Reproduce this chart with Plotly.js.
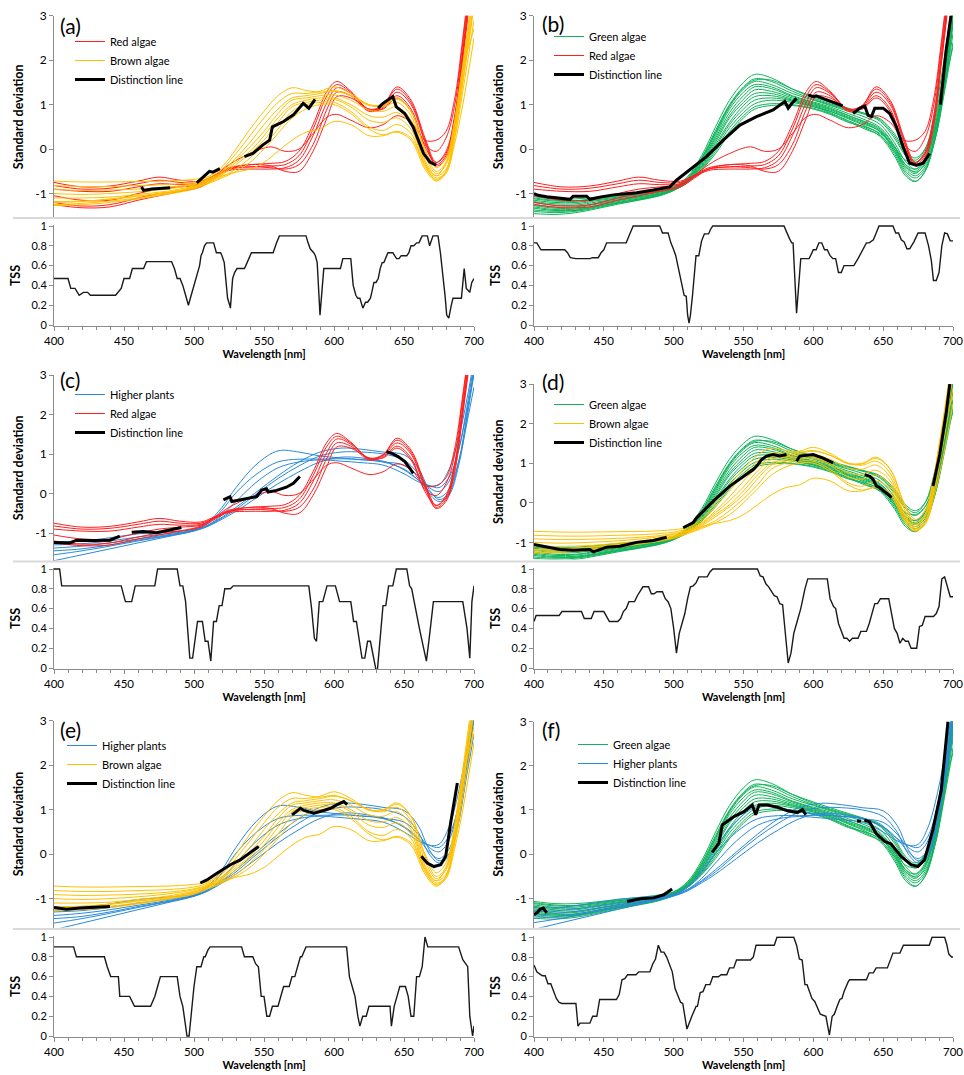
<!DOCTYPE html>
<html><head><meta charset="utf-8">
<script src="https://cdn.plot.ly/plotly-3.0.1.min.js"></script>
<style>html,body{margin:0;padding:0;background:#fff}</style>
</head><body><div id="chart" style="width:964px;height:1075px"></div>
<script>
// ---------------- DATA ----------------
const WL_RED = [400,420,440,460,475,490,505,515,525,540,555,565,575,585,595,602,612,625,635,645,655,665,673,680,686,692,700];
const RED_ALGAE = [
 [-0.75,-0.85,-0.83,-0.72,-0.63,-0.7,-0.72,-0.58,-0.42,-0.35,-0.32,-0.28,-0.05,0.55,1.3,1.52,1.3,0.88,0.98,1.4,1.1,0.25,-0.3,-0.1,0.7,2.2,4.5],
 [-0.82,-0.9,-0.88,-0.78,-0.7,-0.75,-0.75,-0.6,-0.45,-0.4,-0.38,-0.35,-0.15,0.45,1.2,1.45,1.28,0.9,0.98,1.35,1.05,0.2,-0.35,-0.15,0.6,2.1,4.3],
 [-0.9,-0.95,-0.95,-0.85,-0.78,-0.8,-0.78,-0.62,-0.48,-0.45,-0.45,-0.42,-0.25,0.3,1.05,1.38,1.25,0.88,0.95,1.28,1.0,0.15,-0.38,-0.2,0.5,2.0,4.2],
 [-1.05,-1.15,-1.15,-1.0,-0.9,-0.85,-0.8,-0.62,-0.45,-0.4,-0.42,-0.45,-0.35,0.1,0.9,1.28,1.2,0.85,0.92,1.2,0.9,0.05,-0.3,-0.05,0.7,2.2,4.4],
 [-1.2,-1.28,-1.25,-1.1,-1.0,-0.95,-0.85,-0.65,-0.45,-0.35,-0.38,-0.5,-0.5,-0.05,0.7,1.18,1.15,0.9,0.9,1.15,0.85,0.1,-0.05,0.25,0.95,2.4,4.6],
 [-1.25,-1.32,-1.3,-1.15,-1.05,-0.95,-0.82,-0.6,-0.35,-0.1,0.05,-0.05,0.0,0.35,0.72,0.78,0.65,0.48,0.55,0.75,0.6,0.2,0.2,0.4,1.1,2.5,4.7]
];
const WL_BROWN = [400,420,440,460,480,500,510,520,530,540,550,560,570,580,590,600,612,625,635,645,655,665,673,680,686,692,700];
const BROWN_ALGAE = [
 [-0.72,-0.74,-0.74,-0.73,-0.72,-0.68,-0.62,-0.4,0.0,0.45,0.85,1.2,1.38,1.32,1.28,1.32,1.2,0.98,0.98,1.12,0.85,0.0,-0.42,-0.2,0.6,1.9,3.8],
 [-0.82,-0.84,-0.84,-0.82,-0.8,-0.74,-0.65,-0.45,-0.1,0.3,0.7,1.05,1.25,1.25,1.3,1.4,1.25,1.0,1.0,1.15,0.85,-0.05,-0.5,-0.3,0.5,1.8,3.6],
 [-0.91,-0.93,-0.92,-0.9,-0.86,-0.78,-0.68,-0.5,-0.2,0.15,0.55,0.9,1.15,1.2,1.25,1.3,1.2,1.0,0.95,1.05,0.75,-0.15,-0.55,-0.35,0.4,1.6,3.3],
 [-1.0,-1.02,-1.0,-0.96,-0.9,-0.8,-0.7,-0.52,-0.25,0.05,0.4,0.8,1.1,1.15,1.2,1.22,1.1,0.88,0.85,0.95,0.65,-0.25,-0.6,-0.45,0.3,1.5,3.2],
 [-1.1,-1.1,-1.08,-1.02,-0.95,-0.83,-0.72,-0.55,-0.3,-0.05,0.3,0.7,1.0,1.1,1.15,1.15,1.0,0.75,0.72,0.82,0.55,-0.3,-0.65,-0.5,0.2,1.3,2.9],
 [-1.18,-1.17,-1.13,-1.06,-0.98,-0.86,-0.74,-0.58,-0.35,-0.1,0.2,0.6,0.95,1.05,1.1,1.12,0.95,0.65,0.6,0.7,0.45,-0.35,-0.7,-0.55,0.1,1.0,2.5],
 [-1.25,-1.22,-1.17,-1.1,-1.0,-0.88,-0.76,-0.62,-0.45,-0.2,0.1,0.45,0.85,1.0,1.05,1.05,0.85,0.5,0.42,0.55,0.35,-0.4,-0.68,-0.5,0.3,1.5,3.3],
 [-1.2,-1.18,-1.12,-1.05,-0.98,-0.85,-0.72,-0.6,-0.52,-0.45,-0.3,-0.05,0.2,0.38,0.45,0.62,0.55,0.3,0.3,0.38,0.2,-0.45,-0.72,-0.5,0.4,1.7,3.5],
 [-1.27,-1.25,-1.2,-1.12,-1.02,-0.9,-0.78,-0.65,-0.5,-0.3,0.0,0.35,0.7,0.9,1.0,1.0,0.8,0.45,0.32,0.4,0.25,-0.35,-0.6,-0.3,0.6,1.8,2.7]
];
const WL_GREEN = [400,415,430,445,460,475,490,500,510,520,530,540,550,558,570,585,600,612,625,637,648,658,666,673,680,687,694,700];
const GREEN_ALGAE = [
 [-1.07,-1.12,-1.12,-1.08,-1.03,-0.98,-0.92,-0.85,-0.62,-0.15,0.5,1.1,1.5,1.68,1.6,1.35,1.15,1.02,0.9,0.8,0.68,0.35,-0.05,-0.2,0.0,0.7,1.9,3.2],
 [-1.12,-1.17,-1.17,-1.12,-1.06,-1.0,-0.94,-0.86,-0.65,-0.2,0.42,1.0,1.4,1.58,1.52,1.3,1.12,1.0,0.88,0.78,0.62,0.25,-0.15,-0.32,-0.1,0.6,1.8,3.1],
 [-1.15,-1.2,-1.2,-1.14,-1.08,-1.02,-0.95,-0.87,-0.67,-0.25,0.35,0.95,1.35,1.52,1.45,1.25,1.1,0.98,0.85,0.72,0.55,0.15,-0.28,-0.45,-0.25,0.45,1.6,2.9],
 [-1.18,-1.23,-1.23,-1.16,-1.1,-1.03,-0.96,-0.88,-0.68,-0.28,0.3,0.9,1.28,1.45,1.4,1.2,1.06,0.95,0.8,0.66,0.48,0.08,-0.35,-0.52,-0.35,0.3,1.4,2.6],
 [-1.2,-1.26,-1.26,-1.19,-1.12,-1.05,-0.97,-0.89,-0.7,-0.3,0.25,0.82,1.2,1.4,1.36,1.18,1.04,0.92,0.76,0.6,0.42,0.0,-0.45,-0.6,-0.4,0.2,1.3,2.4],
 [-1.24,-1.3,-1.3,-1.22,-1.14,-1.07,-0.99,-0.9,-0.7,-0.32,0.2,0.75,1.12,1.33,1.3,1.15,1.02,0.9,0.75,0.62,0.45,0.05,-0.4,-0.55,-0.3,0.4,1.7,3.1],
 [-1.27,-1.33,-1.32,-1.24,-1.16,-1.08,-1.0,-0.9,-0.72,-0.35,0.15,0.7,1.05,1.25,1.25,1.12,1.0,0.88,0.72,0.58,0.38,-0.05,-0.5,-0.65,-0.45,0.2,1.4,2.8],
 [-1.3,-1.36,-1.35,-1.27,-1.18,-1.1,-1.01,-0.91,-0.72,-0.38,0.1,0.6,0.98,1.18,1.2,1.1,0.98,0.85,0.68,0.52,0.32,-0.1,-0.55,-0.72,-0.5,0.2,1.5,2.9],
 [-1.33,-1.38,-1.37,-1.29,-1.2,-1.12,-1.02,-0.92,-0.73,-0.4,0.05,0.55,0.9,1.1,1.15,1.08,0.96,0.82,0.64,0.48,0.28,-0.15,-0.6,-0.73,-0.5,0.3,1.6,3.0],
 [-1.37,-1.4,-1.38,-1.3,-1.21,-1.13,-1.03,-0.92,-0.73,-0.42,0.0,0.48,0.82,1.02,1.1,1.05,0.95,0.85,0.7,0.55,0.4,0.0,-0.35,-0.45,-0.2,0.5,1.8,3.2],
 [-1.4,-1.43,-1.4,-1.32,-1.22,-1.14,-1.04,-0.93,-0.75,-0.45,-0.05,0.4,0.75,0.95,1.02,1.0,0.92,0.8,0.62,0.45,0.3,-0.05,-0.4,-0.5,-0.25,0.4,1.6,2.9],
 [-1.45,-1.47,-1.43,-1.34,-1.24,-1.15,-1.05,-0.93,-0.75,-0.47,-0.1,0.35,0.7,0.9,0.98,0.98,0.9,0.78,0.6,0.5,0.35,0.05,-0.25,-0.3,-0.1,0.5,1.5,2.3],
 [-1.1,-1.15,-1.16,-1.1,-1.05,-1.0,-0.95,-0.87,-0.66,-0.22,0.38,0.98,1.38,1.55,1.55,1.35,1.18,1.05,0.92,0.8,0.65,0.3,-0.1,-0.25,0.0,0.8,2.1,3.4]
];
const WL_PLANTS = [400,420,440,460,480,500,510,520,530,545,560,575,590,605,620,635,650,660,668,675,682,689,695,700];
const HIGHER_PLANTS = [
 [-1.22,-1.2,-1.12,-1.02,-0.97,-0.9,-0.72,-0.35,0.15,0.75,1.08,1.05,0.95,0.9,0.85,0.82,0.6,0.35,0.2,0.22,0.6,1.4,2.4,3.4],
 [-1.3,-1.27,-1.2,-1.1,-1.02,-0.92,-0.75,-0.42,0.02,0.5,0.8,0.87,0.87,0.88,0.86,0.8,0.72,0.45,0.15,0.05,0.3,1.1,2.2,3.3],
 [-1.38,-1.33,-1.25,-1.15,-1.05,-0.93,-0.8,-0.6,-0.35,0.05,0.45,0.8,1.05,1.15,1.12,1.05,0.98,0.65,0.1,-0.15,0.0,0.8,2.0,3.2],
 [-1.45,-1.4,-1.3,-1.18,-1.07,-0.94,-0.82,-0.62,-0.4,0.0,0.38,0.7,0.95,1.05,1.05,1.0,0.85,0.5,0.0,-0.2,-0.05,0.7,1.9,3.1],
 [-1.7,-1.55,-1.4,-1.25,-1.1,-0.95,-0.83,-0.65,-0.45,-0.1,0.25,0.55,0.8,0.92,0.9,0.8,0.62,0.35,0.05,-0.1,0.1,0.8,1.8,2.7],
 [-1.55,-1.45,-1.33,-1.2,-1.08,-0.94,-0.8,-0.55,-0.2,0.3,0.65,0.8,0.85,0.82,0.78,0.72,0.5,0.3,0.2,0.15,0.4,1.1,2.1,3.0]
];

// Distinction lines (null = gap)
const DIST_A_X = [462.5,464,470,477,483,null,502,507,511,513.5,518.5,null,536,542,549,554,556,564,571,578,582,584,586.5,null,631.5,635,642,644.5,650.5,656.5,664,668.5,673];
const DIST_A_Y = [-0.85,-0.93,-0.9,-0.88,-0.87,null,-0.76,-0.62,-0.5,-0.52,-0.44,null,-0.17,-0.1,0.09,0.2,0.5,0.62,0.77,1.03,0.92,1.0,1.12,null,0.92,1.03,1.18,0.95,0.8,0.5,-0.1,-0.29,-0.36];
const DIST_B_X = [400,403,409,418,425.8,428,437.7,440,447,456.8,466.3,473.5,485.4,497.3,502,514,523.5,535.5,547.4,559.3,571.2,579.6,582,584.4,588,null,596.3,600,602,607,614,621,null,628.5,633.3,636.8,639.2,641.6,644,650,654.7,659.5,664.3,669,673.8,678.6,683.3,null,691,695,699];
const DIST_B_Y = [-1.0,-1.04,-1.07,-1.11,-1.13,-1.06,-1.06,-1.13,-1.08,-1.03,-1.01,-0.98,-0.92,-0.85,-0.7,-0.4,-0.17,0.2,0.54,0.73,0.88,1.07,0.92,1.02,1.14,null,1.22,1.18,1.2,1.14,1.07,0.97,null,0.8,0.92,0.97,0.76,0.73,0.92,0.92,0.8,0.5,0.05,-0.32,-0.36,-0.32,-0.1,null,1.0,2.2,3.1];
const DIST_C_X = [400,411.4,416,428,440,447,null,455.5,463.8,473.3,480.4,491,null,521,525.7,527,537.6,544.7,548.3,551.8,553,559,566,571,575.6,null,637.5,641,646,650.6,654.2,656.6];
const DIST_C_Y = [-1.24,-1.25,-1.18,-1.19,-1.18,-1.08,null,-0.98,-0.96,-0.99,-0.93,-0.86,null,-0.16,-0.08,-0.2,-0.12,-0.08,0.09,0.12,0.04,0.08,0.16,0.26,0.43,null,1.06,1.02,0.93,0.81,0.64,0.51];
const DIST_D_X = [400,406.7,418.6,428,440,442.5,452,461.5,473.5,485.4,495,null,506.8,514,516.4,528.3,540.2,552.2,557,559.3,563,566.5,571.2,576,580.8,null,588,590.3,599.9,607,614.2,null,636.8,640.4,642.8,645.2,647.6,651.2,653.5,656,null,685.7,690.5,695.3,697.7];
const DIST_D_Y = [-1.05,-1.1,-1.18,-1.2,-1.18,-1.24,-1.12,-1.1,-1.0,-0.95,-0.87,null,-0.63,-0.5,-0.38,0.04,0.42,0.71,0.84,0.92,1.09,1.18,1.22,1.18,1.22,null,1.05,1.18,1.22,1.13,1.01,null,0.71,0.67,0.59,0.42,0.38,0.29,0.21,0.13,null,0.42,1.22,2.31,3.0];
const DIST_E_X = [400,409,418.6,428,440,null,504.5,509.2,516.4,526,533,538,546.2,null,570,573.6,576,578.4,585.6,592.7,597.5,602.2,607,609.4,null,662.4,666.6,671.4,676.2,679.8,683.3,688.1];
const DIST_E_Y = [-1.2,-1.24,-1.21,-1.19,-1.18,null,-0.65,-0.58,-0.43,-0.24,-0.13,-0.01,0.17,null,0.88,0.96,1.03,0.98,0.92,0.98,1.03,1.11,1.18,1.11,null,-0.05,-0.2,-0.28,-0.24,-0.05,0.7,1.6];
const DIST_F_X = [400,402,404.3,406.7,409.1,null,466.6,476.1,485.7,492.9,498.9,null,527.6,532.4,534.8,543.2,550.3,556.3,558.7,561.1,567.1,574.3,581.5,588.6,592.2,594.6,null,631.3,634.2,null,636.5,640.2,644.9,650.9,655.7,662.8,670,674.8,679.6,685.6,691.6,696.4];
const DIST_F_Y = [-1.37,-1.33,-1.25,-1.22,-1.33,null,-1.07,-1.01,-0.99,-0.92,-0.79,null,0.04,0.25,0.66,0.85,0.96,1.11,0.89,1.11,1.11,1.06,0.98,0.94,1.01,0.89,null,0.75,0.75,null,0.77,0.73,0.47,0.29,0.23,-0.05,-0.24,-0.28,-0.13,0.55,1.45,3.0];

// TSS
const TSS_A_X = [400,410,412,415,418,421,424,426,444,446,448,450,454,456,464,466,484,486,488,490,492,494,496,498,500,502,504,505,506,507.5,509,514,516,519,520,521.6,524,525.5,526,527.6,529,530.7,536,537,539,541,556.5,557.7,559,561,580,581.5,583,585.5,586.7,588,590,592.7,604.6,606.3,612,613.7,615.6,617,618.5,620.6,622.5,624,626,627,628.5,630,631.6,633,634.4,635.6,637.5,638.5,642,643.5,644.7,646.4,648,652,653.5,655,657,659,660.7,662,663,666.7,668.3,670.7,674.3,676,678,679.3,680.5,682,683.8,685,691,693,694.5,697,698.4,700];
const TSS_A_Y = [0.47,0.47,0.37,0.37,0.3,0.33,0.33,0.3,0.3,0.33,0.37,0.47,0.47,0.57,0.57,0.64,0.64,0.57,0.47,0.47,0.4,0.3,0.2,0.3,0.4,0.5,0.6,0.7,0.73,0.8,0.83,0.83,0.73,0.73,0.7,0.63,0.27,0.2,0.17,0.47,0.53,0.57,0.57,0.6,0.67,0.73,0.73,0.77,0.83,0.9,0.9,0.83,0.77,0.73,0.7,0.63,0.1,0.57,0.57,0.67,0.67,0.4,0.3,0.27,0.27,0.17,0.23,0.23,0.27,0.33,0.43,0.43,0.47,0.57,0.63,0.63,0.7,0.73,0.73,0.7,0.67,0.67,0.7,0.7,0.73,0.8,0.8,0.83,0.83,0.87,0.9,0.9,0.8,0.9,0.9,0.73,0.5,0.3,0.1,0.07,0.2,0.27,0.27,0.57,0.37,0.33,0.43,0.47];
const TSS_B_X = [400,402,405,422,424,426,430,440,442,446,448,450,452,466,468,471,490,492,496,498,500,501.5,503,504.5,506,507.5,509,510,511,512,513.5,515,516,518,520,522,525,526.5,528,579,581,583,584.5,585.5,588,590,591,597,600,602,604,606,608,610,612,614,616,618,620,622,629,632,635,638,640,643,645,647,657,659,661,663,665,667,669,672,675,680,682.5,684.5,686,688,690,692,694,696,698,700];
const TSS_B_Y = [0.83,0.83,0.76,0.76,0.73,0.68,0.67,0.67,0.68,0.68,0.73,0.76,0.83,0.83,0.9,1.0,1.0,0.93,0.93,0.83,0.76,0.7,0.6,0.5,0.37,0.3,0.29,0.1,0.02,0.1,0.3,0.6,0.7,0.7,0.85,0.92,0.92,0.97,1.0,1.0,0.93,0.87,0.83,0.83,0.12,0.5,0.67,0.67,0.76,0.76,0.83,0.83,0.76,0.76,0.7,0.67,0.67,0.53,0.53,0.6,0.6,0.67,0.75,0.83,0.83,0.86,0.93,1.0,1.0,0.93,0.93,0.86,0.84,0.77,0.77,0.84,0.93,0.93,0.8,0.65,0.45,0.45,0.53,0.8,0.93,0.92,0.85,0.85];
const TSS_C_X = [400,404,405.5,448,451,455.5,458,472,474,488,490,492,494,497,499,501,502.5,506,508,510,512,514,516,518,520,522,526,528,582,584,586,587.5,589.5,592,595,601,604,612,614,616,618,620,622,624,626,628,630,631,633,635,637,639,642,644.5,652,654,655.5,658,661,664,666,668,671,692,695,697,698.5,700];
const TSS_C_Y = [1.0,1.0,0.83,0.83,0.67,0.67,0.83,0.83,1.0,1.0,0.83,0.83,0.67,0.1,0.1,0.33,0.47,0.47,0.27,0.27,0.07,0.47,0.47,0.63,0.63,0.8,0.8,0.83,0.83,0.6,0.3,0.27,0.67,0.67,0.83,0.83,0.67,0.67,0.47,0.47,0.27,0.1,0.1,0.27,0.27,0.1,-0.02,-0.02,0.33,0.63,0.63,0.83,0.83,1.0,1.0,0.83,0.8,0.6,0.4,0.2,0.07,0.3,0.67,0.67,0.4,0.1,0.67,0.83];
const TSS_D_X = [400,401.5,418,420,434,436,441,443,450,453,454,460,462,464,466,468,472,474,476,478,482,484,486,488,492,494,496,498,500,502,504,506,508,510,512,514,516,518,524,526,528,560,562,564,566,568,570,572,574,576,578,580.5,582,584,586,588,591,594,596,610,612,614.5,616,618,620,622,624,626,628,632,634,638,640,642,644,646,648,654,656,658,660,662,664,666,668,670,674,676,678,680,686,688,690,692,694,696,698,700];
const TSS_D_Y = [0.47,0.53,0.53,0.57,0.57,0.5,0.5,0.57,0.57,0.5,0.47,0.47,0.5,0.57,0.6,0.67,0.67,0.73,0.77,0.82,0.82,0.75,0.75,0.77,0.77,0.7,0.67,0.6,0.4,0.15,0.35,0.45,0.55,0.7,0.82,0.83,0.86,0.92,0.92,0.97,1.0,1.0,0.93,0.92,0.85,0.82,0.77,0.73,0.72,0.65,0.64,0.3,0.05,0.15,0.35,0.45,0.6,0.8,0.9,0.9,0.7,0.62,0.6,0.45,0.37,0.3,0.3,0.27,0.3,0.3,0.37,0.37,0.45,0.55,0.65,0.65,0.7,0.7,0.55,0.4,0.35,0.25,0.3,0.27,0.27,0.2,0.2,0.42,0.43,0.52,0.52,0.55,0.62,0.9,0.92,0.83,0.72,0.72];
const TSS_E_X = [400,414,416,436,438,440.5,446,447,454,456,457.5,469,472,474,476,488,490,492,494,495,496.5,498.5,500,502,505,507,508,510,511.5,534,536,542,544,546,548,550,552,554,556,560,562,564,568,570,572,574,576,577,580,609,611,613,615,617,618.5,620.5,623,625,640,641,643,645,647,651,653,655,657,659,661,663,665,667,689,692,694.5,695.5,697,699,700];
const TSS_E_Y = [0.9,0.9,0.8,0.8,0.7,0.6,0.6,0.4,0.4,0.35,0.3,0.3,0.4,0.5,0.6,0.6,0.4,0.3,0.1,0.0,0.0,0.3,0.5,0.7,0.7,0.8,0.8,0.87,0.9,0.9,0.8,0.8,0.73,0.7,0.4,0.4,0.2,0.2,0.3,0.3,0.4,0.5,0.5,0.6,0.6,0.7,0.8,0.8,0.9,0.9,0.6,0.5,0.4,0.2,0.1,0.2,0.2,0.3,0.3,0.1,0.3,0.4,0.5,0.5,0.4,0.2,0.2,0.6,0.6,0.7,1.0,0.9,0.9,0.77,0.72,0.7,0.2,0.0,0.1];
const TSS_F_X = [400,402,404,406,408,410,412,414,416,418,420,430,431.5,433,440,442,445,447,459,461,463,465,467,473,475,483,485,487,489,491,493,495,497,499,501,503,505,506.5,509.5,513,516,517,519,521,523,526,528,532,534,538,540,543,545,555,557,559,572,574,586,588,590,592,594,595.5,597,599,601,605,609,611.5,613.5,615,617,619,620.5,622,625,626,638,640,643,645,653,655,657,662,664.5,683,685,694,695.5,697,699,700];
const TSS_F_Y = [0.72,0.65,0.63,0.61,0.61,0.53,0.53,0.45,0.38,0.34,0.33,0.33,0.1,0.13,0.13,0.2,0.2,0.37,0.37,0.42,0.57,0.58,0.62,0.62,0.65,0.65,0.73,0.78,0.92,0.85,0.85,0.8,0.72,0.65,0.48,0.4,0.34,0.33,0.07,0.2,0.3,0.3,0.44,0.45,0.52,0.52,0.6,0.6,0.62,0.62,0.69,0.69,0.77,0.77,0.8,0.92,0.92,1.0,1.0,0.92,0.78,0.77,0.52,0.52,0.45,0.38,0.35,0.22,0.2,0.01,0.2,0.22,0.3,0.37,0.38,0.45,0.55,0.57,0.57,0.64,0.64,0.69,0.69,0.77,0.84,0.84,0.92,0.92,1.0,1.0,0.93,0.83,0.8,0.8];

const SD_TICKS = [-1,0,1,2,3];
const SD_TICKTEXT = ['-1','0','1','2','3'];
const TSS_TICKS = [0,0.2,0.4,0.6,0.8,1];
const TSS_TICKTEXT = ['0','0.2','0.4','0.6','0.8','1'];
const WL_TICKS = [400,450,500,550,600,650,700];
const WL_TICKTEXT = ['400','450','500','550','600','650','700'];

const PANEL_LABELS = ['(a)','(b)','(c)','(d)','(e)','(f)'];
const GROUP_NAMES = {red:'Red algae', brown:'Brown algae', green:'Green algae', plants:'Higher plants'};

// ---------------- STYLE / LAYOUT ----------------
const W = 964, H = 1075;
const FONT = 'Lato, "Open Sans", sans-serif';
const COLORS = {red:'#FF1F1F', brown:'#FFC000', green:'#10B35A', plants:'#2A8AD8'};
const GROUPS = {
  red:{wl:WL_RED, curves:RED_ALGAE},
  brown:{wl:WL_BROWN, curves:BROWN_ALGAE},
  green:{wl:WL_GREEN, curves:GREEN_ALGAE},
  plants:{wl:WL_PLANTS, curves:HIGHER_PLANTS}
};
const fx = p => p / W;
const fy = p => 1 - p / H;

const PANELS = [
  {g:['red','brown'], dx:DIST_A_X, dy:DIST_A_Y, tx:TSS_A_X, ty:TSS_A_Y, col:0, top:15.7, ymin:-1.55, bottom:218, t1:226, t0:325, leg:[70,27], lab:[58,25]},
  {g:['green','red'], dx:DIST_B_X, dy:DIST_B_Y, tx:TSS_B_X, ty:TSS_B_Y, col:1, top:15.7, ymin:-1.55, bottom:218, t1:226, t0:325, leg:[549,22], lab:[540,24]},
  {g:['plants','red'], dx:DIST_C_X, dy:DIST_C_Y, tx:TSS_C_X, ty:TSS_C_Y, col:0, top:375, ymin:-1.7, bottom:560.7, t1:569, t0:668, leg:[70,380], lab:[58,379]},
  {g:['green','brown'], dx:DIST_D_X, dy:DIST_D_Y, tx:TSS_D_X, ty:TSS_D_Y, col:1, top:384, ymin:-1.43, bottom:559.4, t1:569, t0:668, leg:[549,390], lab:[540,381]},
  {g:['plants','brown'], dx:DIST_E_X, dy:DIST_E_Y, tx:TSS_E_X, ty:TSS_E_Y, col:0, top:720.6, ymin:-1.65, bottom:927.5, t1:937, t0:1036, leg:[62,731], lab:[58,729]},
  {g:['green','plants'], dx:DIST_F_X, dy:DIST_F_Y, tx:TSS_F_X, ty:TSS_F_Y, col:1, top:721.5, ymin:-1.66, bottom:927.5, t1:937.3, t0:1036, leg:[573,730], lab:[540,729]}
];
const COLX = [[54,474],[534,953]];

const traces = [];
const layout = {
  width:W, height:H, margin:{l:0,r:0,t:0,b:0},
  paper_bgcolor:'#fff', plot_bgcolor:'rgba(0,0,0,0)',
  font:{family:FONT, color:'#000', size:11},
  showlegend:true, annotations:[], shapes:[]
};
const AX = '#8C8C8C';

PANELS.forEach((p, i) => {
  const up = 2*i+1, ts = 2*i+2;
  const xu = 'x'+up, yu = 'y'+up, xt = 'x'+ts, yt = 'y'+ts;
  const legId = i === 0 ? 'legend' : 'legend'+(i+1);
  p.g.forEach(key => {
    const grp = GROUPS[key];
    grp.curves.forEach((c, k) => {
      traces.push({x:grp.wl, y:c, mode:'lines', type:'scatter', xaxis:xu, yaxis:yu,
        name:GROUP_NAMES[key], legend:legId, legendgroup:key+i, showlegend:k===0,
        line:{color:COLORS[key], width:1, shape:'spline', smoothing:1}, hoverinfo:'skip'});
    });
  });
  traces.push({x:p.dx, y:p.dy, mode:'lines', type:'scatter', xaxis:xu, yaxis:yu,
    name:'Distinction line', legend:legId, connectgaps:false,
    line:{color:'#000', width:3}, hoverinfo:'skip'});
  traces.push({x:p.tx, y:p.ty, mode:'lines', type:'scatter', xaxis:xt, yaxis:yt,
    showlegend:false, line:{color:'#1a1a1a', width:1.4}, hoverinfo:'skip'});

  const cx = COLX[p.col];
  const xdom = [fx(cx[0]), fx(cx[1])];
  layout['xaxis'+up] = {domain:xdom, range:[400,700], anchor:yu, showticklabels:false, showline:false,
    ticks:'', showgrid:false, zeroline:false, fixedrange:true, automargin:false};
  layout['yaxis'+up] = {domain:[fy(p.bottom), fy(p.top)], range:[p.ymin, 3], anchor:xu, showline:true, linecolor:AX,
    linewidth:1, ticks:'outside', ticklen:4, tickcolor:AX, tickvals:SD_TICKS, ticktext:SD_TICKTEXT,
    tickfont:{size:12, family:FONT}, showgrid:false, zeroline:false, fixedrange:true, automargin:false,
    title:{text:'<b>Standard deviation</b>', font:{size:12.5, family:FONT}, standoff:8}};
  const pxPerUnit = (p.t0 - p.t1);
  layout['xaxis'+ts] = {domain:xdom, range:[400,700], anchor:yt, showline:true, linecolor:AX, linewidth:1,
    ticks:'outside', ticklen:4, tickcolor:AX, tickvals:WL_TICKS, ticktext:WL_TICKTEXT,
    minor:{dtick:10, tick0:400, ticks:'outside', ticklen:3, tickcolor:AX, showgrid:false},
    tickfont:{size:11.5, family:FONT}, showgrid:false, zeroline:false, fixedrange:true, automargin:false,
    title:{text:'<b>Wavelength [nm]</b>', font:{size:11, family:FONT}, standoff:4}};
  layout['yaxis'+ts] = {domain:[fy(p.t0 + 0.01*pxPerUnit), fy(p.t1 - 0.01*pxPerUnit)], range:[-0.01,1.01], anchor:xt,
    showline:true, linecolor:AX, linewidth:1, ticks:'outside', ticklen:4, tickcolor:AX,
    tickvals:TSS_TICKS, ticktext:TSS_TICKTEXT, tickfont:{size:11, family:FONT},
    showgrid:false, zeroline:false, fixedrange:true, automargin:false,
    title:{text:'<b>TSS</b>', font:{size:12.5, family:FONT}, standoff:8}};

  layout[legId] = {x:fx(p.leg[0]), y:fy(p.leg[1]), xanchor:'left', yanchor:'top', bgcolor:'rgba(0,0,0,0)',
    borderwidth:0, font:{size:11, family:FONT, color:'#000'}, tracegroupgap:0, itemwidth:30, traceorder:'normal'};

  layout.annotations.push({text:PANEL_LABELS[i], xref:'paper', yref:'paper', x:fx(p.lab[0]), y:fy(p.lab[1]),
    xanchor:'left', yanchor:'middle', showarrow:false, font:{size:21, family:FONT, color:'#000'}});
});

[218, 561.5, 929].forEach(py => {
  layout.shapes.push({type:'line', xref:'paper', yref:'paper', x0:fx(13), x1:fx(960), y0:fy(py), y1:fy(py),
    line:{color:'#D9D9D9', width:2}});
});

Plotly.newPlot('chart', traces, layout, {displayModeBar:false, staticPlot:true});
</script>
</body></html>
